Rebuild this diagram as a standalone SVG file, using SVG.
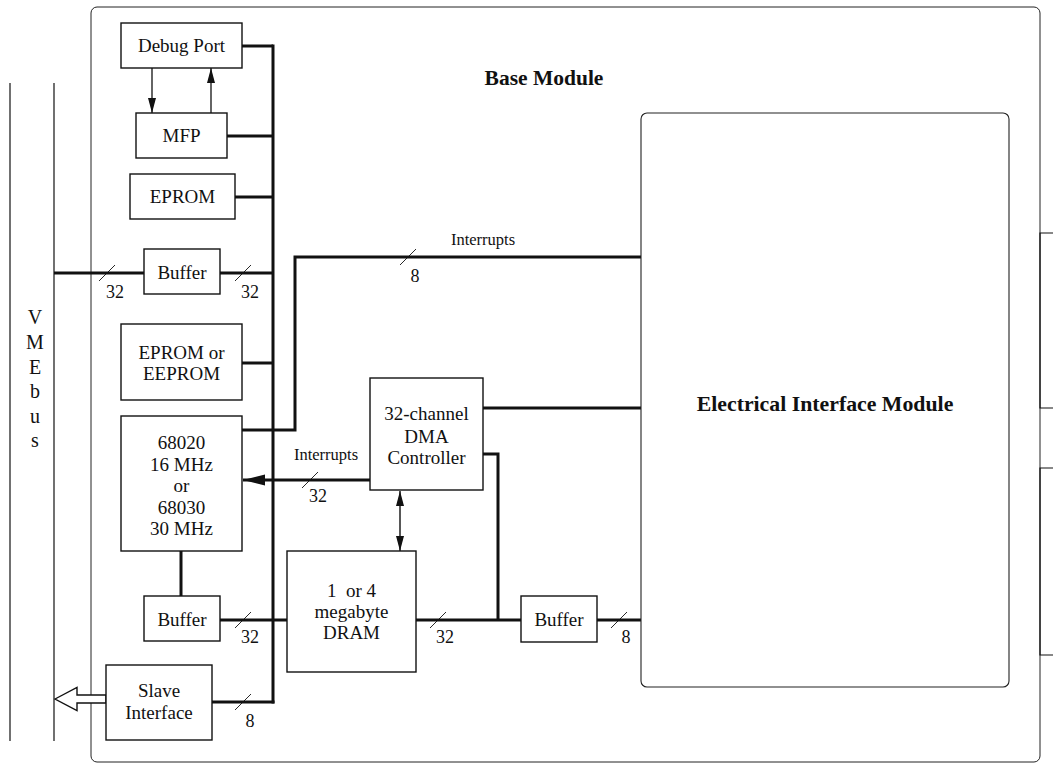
<svg xmlns="http://www.w3.org/2000/svg" width="1053" height="765" viewBox="0 0 1053 765">
<style>
text{font-family:'Liberation Serif','Tinos','Times New Roman','DejaVu Serif',serif;fill:#111;text-anchor:middle}
.box{fill:#fff;stroke:#111;stroke-width:1.4}
.lbl{font-size:19px}
.num{font-size:18px}
.sm{font-size:16.5px}
.bold{font-weight:bold}
.thick{stroke:#111;stroke-width:3;fill:none}
.thin{stroke:#111;stroke-width:1.2;fill:none}
.slash{stroke:#111;stroke-width:0.9}
</style>
<defs>
<marker id="ah" viewBox="0 0 15 8" refX="15" refY="4" markerWidth="15" markerHeight="8" markerUnits="userSpaceOnUse" orient="auto-start-reverse">
<path d="M0,0 L15,4 L0,8 z" fill="#111"/>
</marker>
<marker id="ahb" viewBox="0 0 22 12" refX="22" refY="6" markerWidth="22" markerHeight="12" markerUnits="userSpaceOnUse" orient="auto">
<path d="M0,0.5 L22,6 L0,11.5 z" fill="#111"/>
</marker>
</defs>
<rect width="1053" height="765" fill="#fff"/>

<g id="vmebus">
<line x1="10" y1="83" x2="10" y2="741" class="thin"/>
<line x1="54" y1="83" x2="54" y2="741" class="thin"/>
<text x="35" y="324" style="font-size:20px">V</text>
<text x="35" y="349" style="font-size:20px">M</text>
<text x="35" y="374" style="font-size:20px">E</text>
<text x="35" y="398" style="font-size:20px">b</text>
<text x="35" y="423" style="font-size:20px">u</text>
<text x="35" y="447" style="font-size:20px">s</text>
</g>

<g id="base-module">
<rect x="91" y="7" width="949" height="755" rx="6" fill="none" stroke="#222" stroke-width="1"/>
<text x="544" y="85" class="bold" style="font-size:21.5px">Base Module</text>
</g>

<g id="right-brackets">
<polyline points="1053,233 1040,233 1040,408 1053,408" class="thin"/>
<polyline points="1053,468 1040,468 1040,655 1053,655" class="thin"/>
</g>

<g id="connectors">
<line x1="273" y1="44.5" x2="273" y2="703.5" class="thick"/>
<line x1="242" y1="46" x2="273" y2="46" class="thick"/>
<line x1="227" y1="136" x2="273" y2="136" class="thick"/>
<line x1="235" y1="197" x2="273" y2="197" class="thick"/>
<line x1="54" y1="273" x2="144" y2="273" class="thick"/>
<line x1="220" y1="273" x2="273" y2="273" class="thick"/>
<line x1="242" y1="363" x2="273" y2="363" class="thick"/>
<polyline points="242,430 295,430 295,257 641,257" class="thick"/>
<line x1="483" y1="408" x2="641" y2="408" class="thick"/>
<polyline points="483,454 498,454 498,620" class="thick"/>
<line x1="370" y1="480" x2="243" y2="480" class="thick" marker-end="url(#ahb)"/>
<line x1="400" y1="491" x2="400" y2="551" stroke="#111" stroke-width="1.4" marker-start="url(#ah)" marker-end="url(#ah)"/>
<line x1="181" y1="551" x2="181" y2="596" class="thick"/>
<line x1="220" y1="620" x2="287" y2="620" class="thick"/>
<line x1="416" y1="620" x2="521" y2="620" class="thick"/>
<line x1="597" y1="620" x2="641" y2="620" class="thick"/>
<line x1="212" y1="702" x2="274.5" y2="702" class="thick"/>
<line x1="152" y1="68" x2="152" y2="113" stroke="#111" stroke-width="1.3" marker-end="url(#ah)"/>
<line x1="211" y1="113" x2="211" y2="68" stroke="#111" stroke-width="1.3" marker-end="url(#ah)"/>
<polygon points="55,699 77,687.5 77,695 106,695 106,703 77,703 77,710.5" fill="#fff" stroke="#111" stroke-width="1.4"/>
<line x1="99" y1="281" x2="115" y2="265" class="slash"/>
<line x1="235" y1="281" x2="251" y2="265" class="slash"/>
<line x1="400" y1="265" x2="416" y2="249" class="slash"/>
<line x1="302" y1="488" x2="318" y2="472" class="slash"/>
<line x1="235" y1="628" x2="251" y2="612" class="slash"/>
<line x1="430" y1="628" x2="446" y2="612" class="slash"/>
<line x1="611" y1="628" x2="627" y2="612" class="slash"/>
<line x1="235" y1="710" x2="251" y2="694" class="slash"/>
<text x="115" y="298" class="num">32</text>
<text x="250" y="298" class="num">32</text>
<text x="483" y="245" class="sm">Interrupts</text>
<text x="415" y="282" class="num">8</text>
<text x="326" y="460" class="sm">Interrupts</text>
<text x="318" y="502" class="num">32</text>
<text x="250" y="643" class="num">32</text>
<text x="445" y="643" class="num">32</text>
<text x="626" y="643" class="num">8</text>
<text x="250" y="727" class="num">8</text>
</g>

<g id="debug-port">
<rect x="121" y="23" width="121" height="45" class="box"/>
<text x="181.5" y="52" class="lbl">Debug Port</text>
</g>
<g id="mfp">
<rect x="136" y="113" width="91" height="45" class="box"/>
<text x="181.5" y="142" class="lbl">MFP</text>
</g>
<g id="eprom">
<rect x="130" y="174" width="105" height="45" class="box"/>
<text x="182.5" y="203" class="lbl">EPROM</text>
</g>
<g id="buffer-vme">
<rect x="144" y="249" width="76" height="45" class="box"/>
<text x="182" y="279" class="lbl">Buffer</text>
</g>
<g id="eeprom">
<rect x="121" y="324" width="121" height="76" class="box"/>
<text x="181.5" y="359" class="lbl">EPROM or</text>
<text x="181.5" y="380" class="lbl">EEPROM</text>
</g>
<g id="cpu">
<rect x="121" y="416" width="121" height="135" class="box"/>
<text x="181.5" y="449" class="lbl">68020</text>
<text x="181.5" y="471" class="lbl">16 MHz</text>
<text x="181.5" y="492" class="lbl">or</text>
<text x="181.5" y="514" class="lbl">68030</text>
<text x="181.5" y="535" class="lbl">30 MHz</text>
</g>
<g id="buffer-cpu">
<rect x="144" y="596" width="76" height="45" class="box"/>
<text x="182" y="626" class="lbl">Buffer</text>
</g>
<g id="slave-interface">
<rect x="106" y="665" width="106" height="75" class="box"/>
<text x="159" y="697" class="lbl">Slave</text>
<text x="159" y="719" class="lbl">Interface</text>
</g>
<g id="dma">
<rect x="370" y="378" width="113" height="112" class="box"/>
<text x="426.5" y="420" class="lbl">32-channel</text>
<text x="426.5" y="443" class="lbl">DMA</text>
<text x="426.5" y="464" class="lbl">Controller</text>
</g>
<g id="dram">
<rect x="287" y="551" width="129" height="121" class="box"/>
<text x="351.5" y="597" class="lbl" xml:space="preserve">1  or 4</text>
<text x="351.5" y="618" class="lbl">megabyte</text>
<text x="351.5" y="639" class="lbl">DRAM</text>
</g>
<g id="buffer-eim">
<rect x="521" y="596" width="76" height="46" class="box"/>
<text x="559" y="626" class="lbl">Buffer</text>
</g>
<g id="eim">
<rect x="641" y="113" width="368" height="574" rx="6" fill="#fff" stroke="#222" stroke-width="1.1"/>
<text x="825" y="411" class="bold" style="font-size:21.8px">Electrical Interface Module</text>
</g>
</svg>
